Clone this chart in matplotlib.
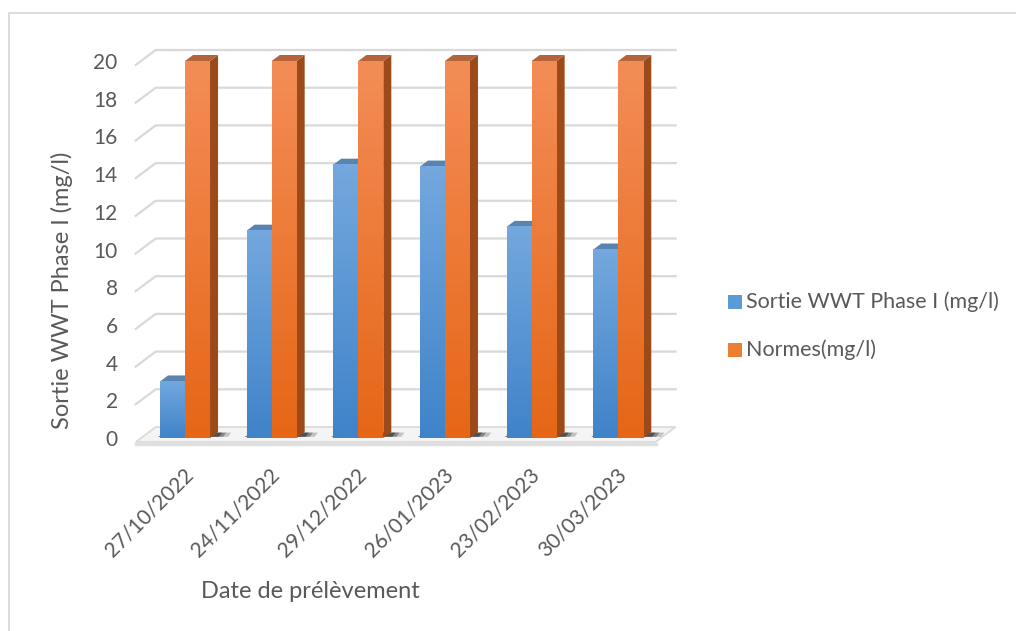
import numpy as np
import matplotlib.pyplot as plt
from matplotlib.patches import Polygon, Rectangle
from matplotlib.lines import Line2D
from matplotlib.colors import to_rgb

# Données
dates = ["27/10/2022", "24/11/2022", "29/12/2022", "26/01/2023", "23/02/2023", "30/03/2023"]
sortie = [3, 11, 14.5, 14.4, 11.2, 10]
normes = [20, 20, 20, 20, 20, 20]
yticks = list(range(0, 21, 2))

plt.rcParams['font.family'] = ['Lato', 'DejaVu Sans']
gris_txt = "#595959"

W, H = 1016, 631
fig = plt.figure(figsize=(W / 100, H / 100), dpi=100)

# plan avant des barres (en pixels)
x_left, x_right = 141.7, 661.6
y_bas, y_haut = 438, 61
ax = fig.add_axes([x_left / W, 1 - y_bas / H, (x_right - x_left) / W, (y_bas - y_haut) / H])
ax.set_xlim(-0.5, 5.5)
ax.set_ylim(0, 20)
ax.axis("off")

ux = (x_right - x_left) / 6.0   # px par unité x
uy = (y_bas - y_haut) / 20.0    # px par unité y


def px(dx, dy):
    return dx / ux, dy / uy


def poly(pts, **kw):
    p = Polygon(pts, closed=True, clip_on=False, **kw)
    ax.add_patch(p)
    return p


# décalages 3D
mx, my = px(14, 11)     # mur du fond
fx, fy = px(-6, -4)     # bord avant du sol
bx, by = px(8, 6)       # profondeur des barres
bw = 25 / ux            # largeur d'une barre

# sol
poly([(-0.5 + fx, fy), (5.5 + fx, fy), (5.5 + mx, my), (-0.5 + mx, my)],
     facecolor="#f4f4f4", edgecolor="#d9d9d9", lw=1.2, zorder=1)
ax.plot([-0.5 + fx, 5.5 + fx], [fy - px(0, 2)[1]] * 2, color="#e0e0e0", lw=2.5, clip_on=False, zorder=1)

# quadrillage
for v in yticks:
    if v > 0:
        ax.plot([-0.5 + fx, -0.5 + mx, 5.5 + mx], [v + fy, v + my, v + my],
                color="#d9d9d9", lw=1.6, clip_on=False, zorder=0.5)
    lx, ly = px(-24, -2)
    ax.text(-0.5 + lx, v + ly, str(v), ha="right", va="center",
            fontsize=15, color=gris_txt)

# ombres portées sur le sol
for i in range(len(dates)):
    x0, x1 = i - bw, i + bw
    for k, a in [(18, 0.25), (13, 0.4), (9, 0.6)]:
        sx, _ = px(k, 0)
        ox, _ = px(-4 + k * 0.2, 0)
        poly([(x0 + ox, by * 0.2), (x1 + sx, by * 0.2), (x1 + sx + bx * 0.4, by * 0.9),
              (x0 + ox + bx, by * 0.9)],
             facecolor="#2e2e2e", edgecolor="none", alpha=a, zorder=2)

grad = np.linspace(0, 1, 256).reshape(-1, 1)


def barre(x0, v, c_bas, c_haut, c_cote, c_dessus, z):
    x1 = x0 + bw
    c0 = np.array(to_rgb(c_bas))
    c1 = np.array(to_rgb(c_haut))
    img = (c0 + (c1 - c0) * grad[::-1]).reshape(256, 1, 3)
    ax.imshow(img, extent=(x0, x1, 0, v), aspect="auto", origin="upper", zorder=z + 0.1)
    poly([(x1, 0), (x1 + bx, by), (x1 + bx, v + by), (x1, v)],
         facecolor=c_cote, edgecolor="none", zorder=z)
    poly([(x0, v), (x1, v), (x1 + bx, v + by), (x0 + bx, v + by)],
         facecolor=c_dessus, edgecolor="none", zorder=z)


for i in range(len(dates)):
    barre(i - bw, sortie[i], "#3f83c9", "#74a8de", "#3f6d9e", "#5a84b0", 3)
    barre(i, normes[i], "#e66616", "#f38d57", "#9c4a1a", "#b5643a", 4)

ax.set_xlim(-0.5, 5.5)
ax.set_ylim(0, 20)

# étiquettes des dates
for i, d in enumerate(dates):
    ox, oy = px(-2, -26)
    ax.text(i + ox, oy, d, rotation=45, ha="right", va="top", rotation_mode="anchor",
            fontsize=15, color=gris_txt)

# titres des axes
fig.text(62 / W, 1 - 290 / H, "Sortie WWT Phase I (mg/l)", rotation=90,
         ha="center", va="center", fontsize=17, color=gris_txt)
fig.text(310 / W, 1 - 592 / H, "Date de prélèvement", ha="center", va="center",
         fontsize=17, color=gris_txt)

# légende
for yy, lab, col in [(302, "Sortie WWT Phase I (mg/l)", "#5b9bd5"), (350, "Normes(mg/l)", "#ed7d31")]:
    fig.patches.append(Rectangle((728 / W, 1 - (yy + 7) / H), 14 / W, 14 / H,
                                 transform=fig.transFigure, facecolor=col, edgecolor="none"))
    fig.text(746 / W, 1 - yy / H, lab, ha="left", va="center", fontsize=15.5, color=gris_txt)

# cadre du graphique
fig.lines.append(Line2D([8.5 / W, 8.5 / W, 1.0], [0, 1 - 13 / H, 1 - 13 / H],
                        transform=fig.transFigure, color="#d9d9d9", lw=1.3))

fig.savefig("out.png", dpi=100)
